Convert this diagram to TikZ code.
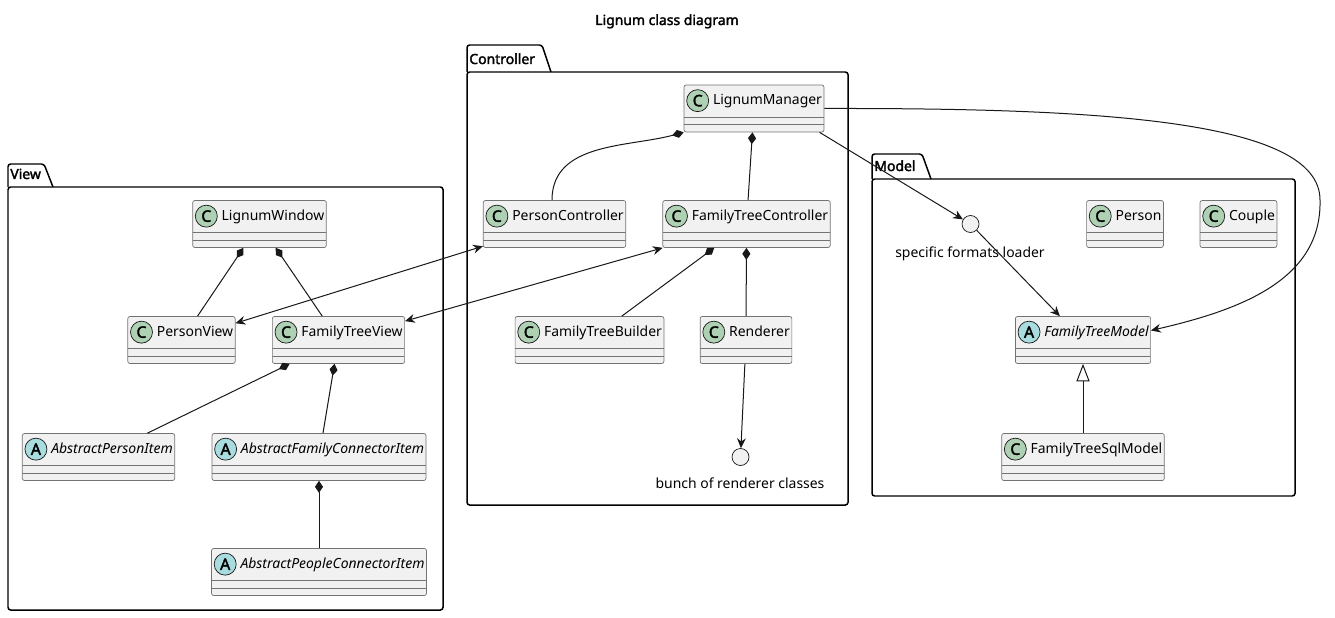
\documentclass[tikz,border=0pt]{standalone}
\usepackage{fontspec}
\setmainfont{Noto Sans}[AutoFakeBold=2.2]
\usepackage{tikz}
\usetikzlibrary{arrows.meta}

\definecolor{classbg}{HTML}{F1F1F1}
\definecolor{spotC}{HTML}{ADD1B2}
\definecolor{spotA}{HTML}{A9DCDF}
\definecolor{ink}{HTML}{181818}

\begin{document}
\begin{tikzpicture}[x=0.02cm,y=0.02cm,>={Stealth[length=5.6pt,width=5pt,inset=1.8pt]},
	font=\fontsize{7.94pt}{9.5pt}\selectfont,
	class/.style={draw=black!55, line width=0.4pt, fill=classbg, rounded corners=1.2pt,
		inner xsep=0.04cm, inner ysep=0pt, text height=0.4cm, text depth=0.54cm,
		path picture={\draw[black!55, line width=0.4pt]
			([yshift=0.3cm]path picture bounding box.south west) -- ([yshift=0.3cm]path picture bounding box.south east)
			([yshift=0.15cm]path picture bounding box.south west) -- ([yshift=0.15cm]path picture bounding box.south east);}},
	spot/.style={circle, draw=ink, line width=0.4pt, minimum size=0.44cm, inner sep=0pt,
		font=\fontsize{9pt}{9pt}\selectfont\bfseries},
	iface/.style={circle, draw=ink, line width=0.4pt, fill=classbg, minimum size=0.34cm, inner sep=0pt},
	pkg/.style={draw=black, line width=0.85pt, rounded corners=1.5pt},
	link/.style={draw=ink, line width=0.57pt},
	comp/.style={link, {Diamond[length=6.8pt,width=4.6pt]}-},
	inherit/.style={link, -{Triangle[open,length=10pt,width=7.5pt,fill=white]}}]

	\useasboundingbox (0,0) rectangle (1335,-618);

	\def\package#1#2#3#4#5#6#7{
		\draw[pkg] (#2,-#4) -- (#2,-#3) -- (#5,-#3) -- (#5+9,-#4);
		\draw[pkg] (#2,-#4) rectangle (#6,-#7);
		\node[anchor=base west, inner sep=0pt, font=\fontsize{7.94pt}{9.5pt}\selectfont\bfseries] (#1tab) at (#2+2,-#4+8) {#1};}
	\def\classbox#1#2#3{
		\node[class] (#1) at (#2) {\hspace*{0.54cm}#3};
		\node[spot, fill=spotC] (#1-spot) at ([shift={(14,-16)}]#1.north west) {C};}
	\def\abstractbox#1#2#3{
		\node[class] (#1) at (#2) {\hspace*{0.54cm}\itshape #3};
		\node[spot, fill=spotA] (#1-spot) at ([shift={(14,-16)}]#1.north west) {A};}

	\node[anchor=base, font=\fontsize{7.94pt}{9.5pt}\selectfont\bfseries] (title) at (667,-25) {Lignum class diagram};

	\package{View}{8}{164}{187}{44}{443}{610}
	\package{Controller}{467}{45}{72}{542}{848}{505}
	\package{Model}{872}{154}{179}{922}{1295}{496}

	% view
	\classbox{window}{259.5,-224}{LignumWindow}
	\classbox{personview}{181.5,-340}{PersonView}
	\classbox{treeview}{338.5,-340}{FamilyTreeView}
	\abstractbox{personitem}{98.5,-457}{AbstractPersonItem}
	\abstractbox{connitem}{319,-457}{AbstractFamilyConnectorItem}
	\abstractbox{peopleitem}{319,-572}{AbstractPeopleConnectorItem}

	% controller
	\classbox{manager}{754,-108.5}{LignumManager}
	\classbox{personctrl}{554.5,-224}{PersonController}
	\classbox{treectrl}{746.5,-224}{FamilyTreeController}
	\classbox{builder}{589.5,-340}{FamilyTreeBuilder}
	\classbox{renderer}{746,-340}{Renderer}
	\node[iface] (renderers) at (740.5,-457) {};
	\node[anchor=base] (rendererslabel) at (740,-488) {bunch of renderer classes};

	% model
	\node[iface] (loader) at (970.5,-224) {};
	\node[anchor=base] (loaderlabel) at (970,-257) {specific formats loader};
	\classbox{person}{1125,-224}{Person}
	\classbox{couple}{1238.5,-224}{Couple}
	\abstractbox{treemodel}{1083,-340}{FamilyTreeModel}
	\classbox{sqlmodel}{1083,-457}{FamilyTreeSqlModel}

	\draw[comp] (window) -- (personview);
	\draw[comp] (window) -- (treeview);
	\draw[comp] (treeview) -- (personitem);
	\draw[comp] (treeview) -- (connitem);
	\draw[comp] (connitem) -- (peopleitem);
	\draw[comp] (manager.south west) to[out=195,in=90] (personctrl.96);
	\draw[comp] (manager) -- (treectrl);
	\draw[comp] (treectrl) -- (builder);
	\draw[comp] (treectrl) -- (renderer);
	\draw[link,->] (renderer) -- (renderers);
	\draw[link,<->] (personctrl) -- (personview);
	\draw[link,<->] (treectrl) -- (treeview);
	\draw[link,->] (manager.-20) -- (loader);
	\draw[link,->] (loader) -- (treemodel);
	\draw[link,->] (manager.east) .. controls (1100,-108) and (1320,-120) .. (1320,-200)
		.. controls (1322,-280) and (1240,-310) .. (treemodel.8);
	\draw[inherit] (sqlmodel) -- (treemodel);
\end{tikzpicture}
\end{document}
